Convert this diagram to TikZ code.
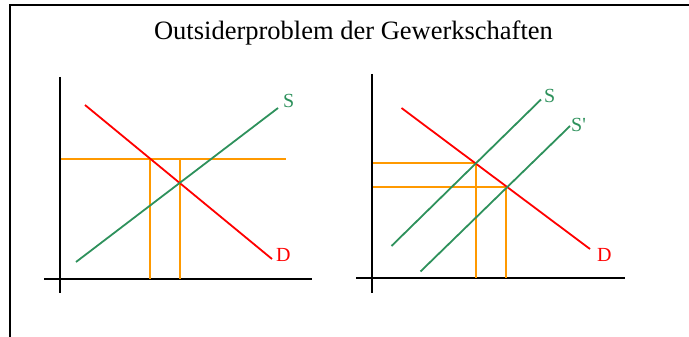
\documentclass[tikz,border=0pt]{standalone}
\usepackage{fontspec}
\setmainfont{Liberation Serif}
\definecolor{sgreen}{RGB}{46,145,92}
\definecolor{sorange}{RGB}{255,153,0}
\tikzset{
  axis/.style={draw=black, line width=2.2pt},
  frame/.style={draw=black, line width=1.6pt},
  supply/.style={draw=sgreen, line width=1.8pt},
  demand/.style={draw=red, line width=1.8pt},
  guide/.style={draw=sorange, line width=1.8pt},
  lbl/.style={inner sep=0pt, anchor=west, font=\fontsize{20}{22}\selectfont},
}
\begin{document}
\begin{tikzpicture}[x=1pt,y=-1pt]
\useasboundingbox (0,0) rectangle (689,337);
% frame
\coordinate (fr1) at (689,5);
\coordinate (fr2) at (10,5);
\coordinate (fr3) at (10,337);
\draw[frame] (fr1) -- (fr2) -- (fr3);
\node (title) at (353.5,33) {\fontsize{26.5}{28}\selectfont Outsiderproblem der Gewerkschaften};

% left panel
\coordinate (ly0) at (60,77);
\coordinate (ly1) at (60,293);
\coordinate (lx0) at (44,279);
\coordinate (lx1) at (312,279);
\draw[axis] (ly0) -- (ly1);
\draw[axis] (lx0) -- (lx1);
\coordinate (lh0) at (61,159);
\coordinate (lh1) at (286,159);
\coordinate (lv1a) at (150,159);
\coordinate (lv1b) at (150,279);
\coordinate (lv2a) at (180,159);
\coordinate (lv2b) at (180,279);
\draw[guide] (lh0) -- (lh1);
\draw[guide] (lv1a) -- (lv1b);
\draw[guide] (lv2a) -- (lv2b);
\coordinate (lD0) at (85,105);
\coordinate (lD1) at (272,259);
\coordinate (lS0) at (76,262);
\coordinate (lS1) at (278,108);
\draw[demand] (lD0) -- (lD1);
\draw[supply] (lS0) -- (lS1);
\node[lbl, text=sgreen] (lSl) at (283,101) {S};
\node[lbl, text=red] (lDl) at (276,255) {D};

% right panel
\coordinate (ry0) at (372,74);
\coordinate (ry1) at (372,293);
\coordinate (rx0) at (356,278);
\coordinate (rx1) at (625,278);
\draw[axis] (ry0) -- (ry1);
\draw[axis] (rx0) -- (rx1);
\coordinate (rh1a) at (373,163);
\coordinate (rh1b) at (476,163);
\coordinate (rh2a) at (373,187);
\coordinate (rh2b) at (506,187);
\coordinate (rv1b) at (476,278);
\coordinate (rv2b) at (506,278);
\draw[guide] (rh1a) -- (rh1b) -- (rv1b);
\draw[guide] (rh2a) -- (rh2b) -- (rv2b);
\coordinate (rD0) at (401.5,108);
\coordinate (rD1) at (590,249);
\coordinate (rS0) at (391.5,246);
\coordinate (rS1) at (541,99.5);
\coordinate (rT0) at (420.5,271.5);
\coordinate (rT1) at (570,126);
\draw[demand] (rD0) -- (rD1);
\draw[supply] (rS0) -- (rS1);
\draw[supply] (rT0) -- (rT1);
\node[lbl, text=sgreen] (rSl) at (544,96) {S};
\node[lbl, text=sgreen] (rTl) at (571,125) {S\textquotesingle};
\node[lbl, text=red] (rDl) at (597,255) {D};
\end{tikzpicture}
\end{document}
